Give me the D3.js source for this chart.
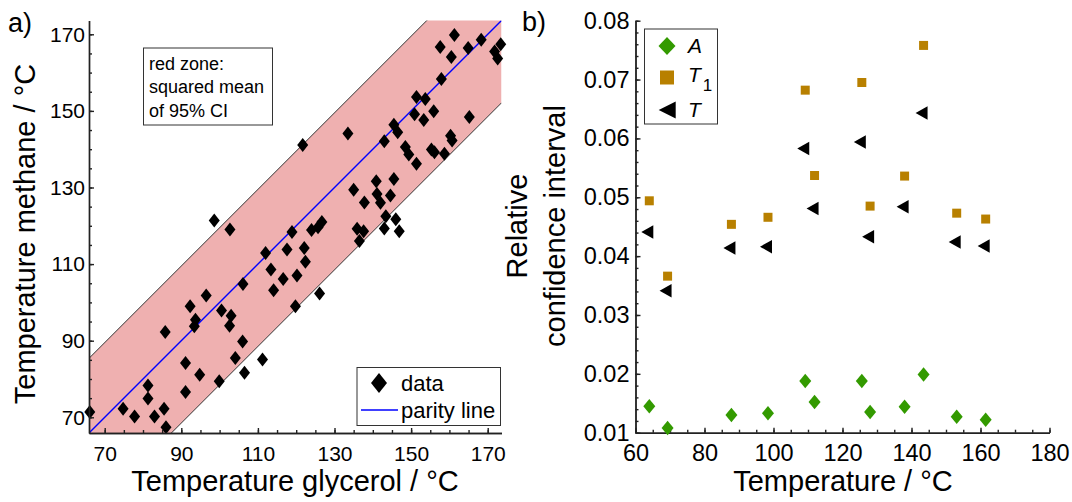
<!DOCTYPE html>
<html>
<head>
<meta charset="utf-8">
<script src="https://cdn.jsdelivr.net/npm/d3@7"></script>
<style>
  body { margin: 0; background: #fff; }
  svg text { font-family: "Liberation Sans", Arial, sans-serif; fill: #000; }
  .axis path, .axis line { stroke: #222; stroke-width: 1.4; }
</style>
</head>
<body>
<div id="chart"></div>
<script>
// panel a) parity plot data
let glycerol = [66.1, 74.8, 77.8, 81.3, 81.3, 83.0, 85.5, 86.0, 85.8, 91.1, 91.1, 94.8, 92.3, 93.7, 93.4, 96.5,
    99.9, 100.5, 103.0, 102.6, 106.0, 104.1, 106.5, 111.2, 98.6, 102.7, 106.1, 112.0, 113.4, 114.1, 116.6, 117.6,
    118.9, 119.8, 120.2, 121.7, 133.5, 124.0, 125.7, 126.7, 122.1, 122.4, 126.1, 135.0, 137.8, 140.9, 141.1, 142.0,
    144.6, 145.5, 143.4, 146.0, 143.0, 146.9, 135.9, 137.6, 136.5, 143.0, 145.5, 146.5, 148.5, 149.4, 151.4, 155.3,
    156.1, 158.7, 160.3, 160.7, 150.9, 153.3, 151.4, 153.7, 155.9, 165.2, 157.9, 157.6, 161.3, 160.5, 164.9, 168.3,
    171.8, 172.6, 173.4];
let methane = [71.4, 72.2, 70.2, 74.9, 78.3, 70.2, 72.2, 67.4, 92.3, 76.6, 84.2, 81.1, 99.0, 95.5, 93.8, 101.8,
    79.4, 97.9, 96.5, 93.9, 89.8, 85.5, 81.6, 85.1, 121.4, 119.0, 104.8, 112.9, 108.6, 103.2, 106.1, 113.8,
    118.4, 99.0, 107.0, 141.1, 144.1, 118.9, 119.6, 121.0, 114.2, 110.6, 102.3, 129.4, 126.1, 131.6, 128.3, 126.0,
    127.9, 132.2, 122.5, 121.7, 119.3, 118.6, 119.2, 118.6, 116.0, 142.1, 146.4, 144.4, 140.6, 138.6, 136.2, 139.9,
    139.2, 138.8, 143.5, 142.3, 149.1, 147.6, 153.6, 153.1, 149.9, 148.4, 158.3, 166.7, 169.8, 164.1, 166.4, 168.6,
    165.5, 163.7, 167.4];
let bandUp = 19.5;   // red zone above parity
let bandDown = 21.5; // red zone below parity
let ticksA = [70, 90, 110, 130, 150, 170];
let boxLines = ["red zone:", "squared mean", "of 95% CI"];

// panel b) confidence intervals
let temps = [64.0, 69.3, 87.8, 98.4, 109.2, 111.9, 125.6, 128.0, 138.0, 143.5, 153.1, 161.5];
let ciA = [0.0145, 0.0108, 0.0130, 0.0133, 0.0188, 0.0152, 0.0188, 0.0135, 0.0144, 0.0199, 0.0127, 0.0122];
let ciT1 = [0.0494, 0.0366, 0.0454, 0.0466, 0.0682, 0.0537, 0.0695, 0.0485, 0.0536, 0.0758, 0.0473, 0.0463];
let ciT = [0.0441, 0.0341, 0.0414, 0.0416, 0.0583, 0.0481, 0.0594, 0.0433, 0.0484, 0.0643, 0.0424, 0.0417];
let ticksBx = [60, 80, 100, 120, 140, 160, 180];
let ticksBy = [0.01, 0.02, 0.03, 0.04, 0.05, 0.06, 0.07, 0.08];

let green = "#339a00";
let gold = "#b88000";

const svg = d3.select("#chart").append("svg")
    .attr("width", 1072)
    .attr("height", 502);

// marker paths
function diamond(w, h) {
    return "M0," + (-h / 2) + "L" + (w / 2) + ",0L0," + (h / 2) + "L" + (-w / 2) + ",0Z";
}
function leftTri(w, h) {
    // centroid at origin
    return "M" + (-2 * w / 3) + ",0L" + (w / 3) + "," + (-h / 2) + "L" + (w / 3) + "," + (h / 2) + "Z";
}
function square(s) {
    return "M" + (-s / 2) + "," + (-s / 2) + "h" + s + "v" + s + "h" + (-s) + "Z";
}

// ---------- panel a ----------
let xA = d3.scaleLinear().domain([65.9, 173.6]).range([89, 501.5]);
let yA = d3.scaleLinear().domain([65.9, 173.6]).range([433, 20.5]);
let d0 = xA.domain()[0], d1 = xA.domain()[1];

svg.append("clipPath").attr("id", "clipA")
    .append("rect").attr("x", 89).attr("y", 20.5).attr("width", 412.5).attr("height", 412.5);

let band = [[d0, d0 + bandUp], [d1, d1 + bandUp], [d1, d1 - bandDown], [d0, d0 - bandDown]];
let gA = svg.append("g").attr("clip-path", "url(#clipA)");
gA.append("path")
    .attr("d", d3.line().x(d => xA(d[0])).y(d => yA(d[1]))(band) + "Z")
    .attr("fill", "#efb0b0");
[[band[0], band[1]], [band[3], band[2]]].forEach(seg => {
    gA.append("line")
        .attr("x1", xA(seg[0][0])).attr("y1", yA(seg[0][1]))
        .attr("x2", xA(seg[1][0])).attr("y2", yA(seg[1][1]))
        .attr("stroke", "#333").attr("stroke-width", 1);
});
gA.append("line")
    .attr("x1", xA(d0)).attr("y1", yA(d0))
    .attr("x2", xA(d1)).attr("y2", yA(d1))
    .attr("stroke", "#0000ff").attr("stroke-width", 1.4);

svg.append("g").selectAll("path")
    .data(d3.zip(glycerol, methane))
    .join("path")
    .attr("d", diamond(11, 14))
    .attr("transform", d => "translate(" + xA(d[0]) + "," + yA(d[1]) + ")")
    .attr("fill", "#000");

// axes a
function minorTicks(lo, hi, step) {
    return d3.range(lo, hi + 1e-9, step);
}
svg.append("g").attr("class", "axis").attr("transform", "translate(0,433)")
    .call(d3.axisBottom(xA).tickValues(minorTicks(70, 170, 5)).tickSize(-3).tickSizeOuter(0).tickFormat(""));
svg.append("g").attr("class", "axis").attr("transform", "translate(89,0)")
    .call(d3.axisLeft(yA).tickValues(minorTicks(70, 170, 5)).tickSize(-3).tickSizeOuter(0).tickFormat(""));
svg.append("g").attr("class", "axis").attr("transform", "translate(0,433)")
    .call(d3.axisBottom(xA).tickValues(ticksA).tickSize(-5).tickSizeOuter(0).tickPadding(13))
    .selectAll("text").style("font-size", "21px");
svg.append("g").attr("class", "axis").attr("transform", "translate(89,0)")
    .call(d3.axisLeft(yA).tickValues(ticksA).tickSize(-5).tickSizeOuter(0).tickPadding(4))
    .selectAll("text").style("font-size", "21px");

// text box
svg.append("rect").attr("x", 143.5).attr("y", 48).attr("width", 129).attr("height", 77)
    .attr("fill", "#fff").attr("stroke", "#333").attr("stroke-width", 1);
svg.append("g").selectAll("text").data(boxLines).join("text")
    .attr("x", 149).attr("y", (d, i) => 70 + i * 23.3)
    .style("font-size", "18px").text(d => d);

// legend a
svg.append("rect").attr("x", 357).attr("y", 367.5).attr("width", 143.5).attr("height", 58)
    .attr("fill", "#fff").attr("stroke", "#333").attr("stroke-width", 1);
svg.append("path").attr("d", diamond(16, 20)).attr("transform", "translate(379,383)");
svg.append("text").attr("x", 401).attr("y", 391).style("font-size", "22px").text("data");
svg.append("line").attr("x1", 361).attr("x2", 398).attr("y1", 410).attr("y2", 410)
    .attr("stroke", "#0000ff").attr("stroke-width", 1.6);
svg.append("text").attr("x", 401).attr("y", 418).style("font-size", "22px").text("parity line");

// titles a
svg.append("text").attr("x", 295).attr("y", 491).attr("text-anchor", "middle")
    .style("font-size", "29px").text("Temperature glycerol / °C");
svg.append("text").attr("transform", "translate(35,234) rotate(-90)").attr("text-anchor", "middle")
    .style("font-size", "29px").text("Temperature methane / °C");
svg.append("text").attr("x", 8).attr("y", 32).style("font-size", "27px").text("a)");

// ---------- panel b ----------
let xB = d3.scaleLinear().domain([60, 180]).range([635.5, 1049.5]);
let yB = d3.scaleLinear().domain([0.01, 0.08]).range([432.7, 20.7]);

svg.append("g").attr("class", "axis").attr("transform", "translate(0,432.7)")
    .call(d3.axisBottom(xB).tickValues(minorTicks(60, 180, 5)).tickSize(-3).tickSizeOuter(0).tickFormat(""));
svg.append("g").attr("class", "axis").attr("transform", "translate(635.5,0)")
    .call(d3.axisLeft(yB).tickValues(minorTicks(0.01, 0.08, 0.002)).tickSize(-3).tickSizeOuter(0).tickFormat(""));
svg.append("g").attr("class", "axis").attr("transform", "translate(0,432.7)")
    .call(d3.axisBottom(xB).tickValues(ticksBx).tickSize(-5).tickSizeOuter(0).tickPadding(12))
    .selectAll("text").style("font-size", "23.5px");
svg.append("g").attr("class", "axis").attr("transform", "translate(635.5,0)")
    .call(d3.axisLeft(yB).tickValues(ticksBy).tickSize(-5).tickSizeOuter(0).tickPadding(6).tickFormat(d3.format(".2f")))
    .selectAll("text").style("font-size", "23.5px");

let gB = svg.append("g");
gB.selectAll(".a").data(d3.zip(temps, ciA)).join("path").attr("class", "a")
    .attr("d", diamond(12, 14.5)).attr("fill", green)
    .attr("transform", d => "translate(" + xB(d[0]) + "," + yB(d[1]) + ")");
gB.selectAll(".t1").data(d3.zip(temps, ciT1)).join("path").attr("class", "t1")
    .attr("d", square(9)).attr("fill", gold)
    .attr("transform", d => "translate(" + xB(d[0]) + "," + yB(d[1]) + ")");
gB.selectAll(".t").data(d3.zip(temps, ciT)).join("path").attr("class", "t")
    .attr("d", leftTri(12, 13.5)).attr("fill", "#000")
    .attr("transform", d => "translate(" + xB(d[0]) + "," + yB(d[1]) + ")");

// legend b
svg.append("rect").attr("x", 644.5).attr("y", 29).attr("width", 73).attr("height", 95)
    .attr("fill", "#fff").attr("stroke", "#333").attr("stroke-width", 1);
svg.append("path").attr("d", diamond(17, 18)).attr("fill", green).attr("transform", "translate(667,46)");
svg.append("path").attr("d", square(14)).attr("fill", gold).attr("transform", "translate(667,77.5)");
svg.append("path").attr("d", leftTri(17, 17)).attr("fill", "#000").attr("transform", "translate(670,110)");
svg.append("text").attr("x", 688).attr("y", 53).style("font-size", "21px").style("font-style", "italic").text("A");
let t1 = svg.append("text").attr("x", 688).attr("y", 82).style("font-size", "21px");
t1.append("tspan").style("font-style", "italic").text("T");
t1.append("tspan").attr("dy", 9).attr("dx", 2).style("font-size", "17px").text("1");
svg.append("text").attr("x", 688).attr("y", 117).style("font-size", "21px").style("font-style", "italic").text("T");

// titles b
svg.append("text").attr("x", 843).attr("y", 491).attr("text-anchor", "middle")
    .style("font-size", "29px").text("Temperature / °C");
svg.append("text").attr("transform", "translate(527,226) rotate(-90)").attr("text-anchor", "middle")
    .style("font-size", "29px").text("Relative");
svg.append("text").attr("transform", "translate(565,226) rotate(-90)").attr("text-anchor", "middle")
    .style("font-size", "29px").text("confidence interval");
svg.append("text").attr("x", 522).attr("y", 31).style("font-size", "27px").text("b)");
</script>
</body>
</html>
